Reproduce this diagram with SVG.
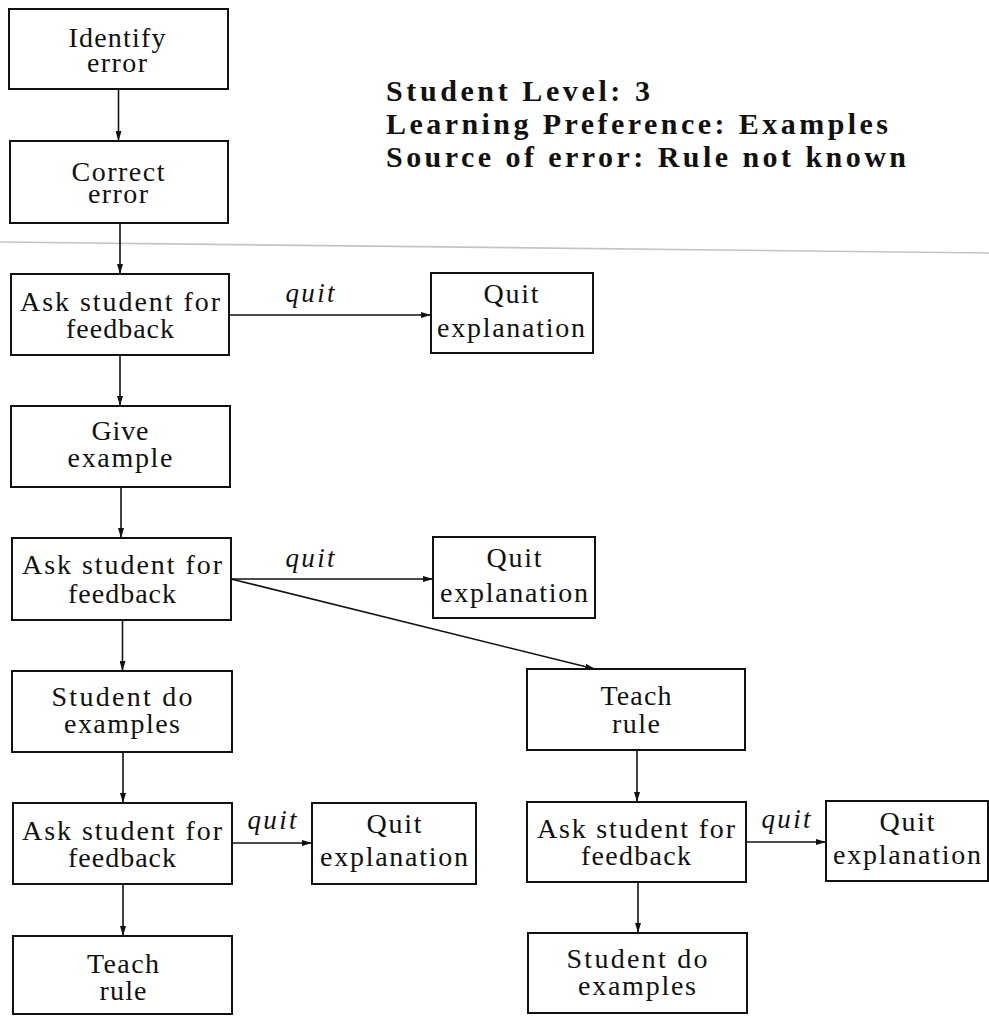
<svg xmlns="http://www.w3.org/2000/svg" width="989" height="1016" viewBox="0 0 989 1016">
  <style>
    .box { fill: #ffffff; stroke: #111111; stroke-width: 2; }
    .lbl { font-family: "Liberation Serif", "Times New Roman", serif; font-size: 28px; fill: #111111; text-anchor: middle; }
    .q { font-family: "Liberation Serif", "Times New Roman", serif; font-size: 27px; font-style: italic; fill: #111111; text-anchor: middle; }
    .hdr { font-family: "Liberation Serif", "Times New Roman", serif; font-size: 30px; font-weight: bold; fill: #111111; }
    .edge { stroke: #111111; stroke-width: 1.6; fill: none; marker-end: url(#arrow); }
  </style>
  <defs>
    <marker id="arrow" viewBox="0 0 10 6" refX="10" refY="3" markerWidth="10" markerHeight="6" markerUnits="userSpaceOnUse" orient="auto">
      <path d="M0,0 L10,3 L0,6 Z" fill="#111111"/>
    </marker>
  </defs>

  <rect width="989" height="1016" fill="#ffffff"/>

  <!-- page rule -->
  <line x1="0" y1="242" x2="989" y2="253" stroke="#c4c4c4" stroke-width="1.6"/>

  <!-- session header -->
  <g id="header">
    <text class="hdr" x="386" y="101" textLength="264">Student Level: 3</text>
    <text class="hdr" x="386" y="134" textLength="502">Learning Preference: Examples</text>
    <text class="hdr" x="386" y="167" textLength="520">Source of error: Rule not known</text>
  </g>

  <!-- connectors -->
  <g id="connectors">
    <line class="edge" x1="118.5" y1="89" x2="118.5" y2="141"/>
    <line class="edge" x1="120" y1="223" x2="120" y2="274"/>
    <line class="edge" x1="120" y1="355" x2="120" y2="406"/>
    <line class="edge" x1="121" y1="487" x2="121" y2="538"/>
    <line class="edge" x1="122.5" y1="620" x2="122.5" y2="671"/>
    <line class="edge" x1="123" y1="752" x2="123" y2="803"/>
    <line class="edge" x1="123" y1="884" x2="123" y2="936"/>
    <line class="edge" x1="637" y1="750" x2="637" y2="802"/>
    <line class="edge" x1="638" y1="882" x2="638" y2="933"/>
    <line class="edge" x1="229" y1="315" x2="431" y2="315"/>
    <line class="edge" x1="231" y1="579" x2="433" y2="579"/>
    <line class="edge" x1="231" y1="579" x2="595" y2="669"/>
    <line class="edge" x1="232" y1="843" x2="312" y2="843"/>
    <line class="edge" x1="746" y1="842" x2="826" y2="842"/>
    <text class="q" x="310" y="302" textLength="49">quit</text>
    <text class="q" x="310" y="567" textLength="49">quit</text>
    <text class="q" x="272" y="829" textLength="49">quit</text>
    <text class="q" x="786" y="828" textLength="49">quit</text>
  </g>

  <g id="identify-error">
    <rect class="box" x="9" y="9" width="219" height="80"/>
    <text class="lbl"><tspan x="117" y="47" textLength="97">Identify</tspan><tspan x="117" y="72" textLength="60">error</tspan></text>
  </g>

  <g id="correct-error">
    <rect class="box" x="10" y="141" width="218" height="82"/>
    <text class="lbl"><tspan x="118" y="181" textLength="93">Correct</tspan><tspan x="118" y="203" textLength="60">error</tspan></text>
  </g>

  <g id="ask-feedback-1">
    <rect class="box" x="11" y="274" width="218" height="81"/>
    <text class="lbl"><tspan x="120" y="311" textLength="200">Ask student for</tspan><tspan x="120" y="338" textLength="108">feedback</tspan></text>
  </g>

  <g id="quit-1">
    <rect class="box" x="431" y="273" width="162" height="80"/>
    <text class="lbl"><tspan x="511" y="303" textLength="55">Quit</tspan><tspan x="511" y="337" textLength="148">explanation</tspan></text>
  </g>

  <g id="give-example">
    <rect class="box" x="11" y="406" width="219" height="81"/>
    <text class="lbl"><tspan x="120" y="440" textLength="57">Give</tspan><tspan x="120" y="467" textLength="105">example</tspan></text>
  </g>

  <g id="ask-feedback-2">
    <rect class="box" x="12" y="538" width="219" height="82"/>
    <text class="lbl"><tspan x="122" y="574" textLength="200">Ask student for</tspan><tspan x="122" y="603" textLength="108">feedback</tspan></text>
  </g>

  <g id="quit-2">
    <rect class="box" x="433" y="537" width="162" height="81"/>
    <text class="lbl"><tspan x="514" y="567" textLength="55">Quit</tspan><tspan x="514" y="602" textLength="148">explanation</tspan></text>
  </g>

  <g id="student-examples-1">
    <rect class="box" x="12" y="671" width="220" height="81"/>
    <text class="lbl"><tspan x="122" y="706" textLength="141">Student do</tspan><tspan x="122" y="733" textLength="116">examples</tspan></text>
  </g>

  <g id="teach-rule-1">
    <rect class="box" x="527" y="669" width="218" height="81"/>
    <text class="lbl"><tspan x="636" y="705" textLength="71">Teach</tspan><tspan x="636" y="733" textLength="48">rule</tspan></text>
  </g>

  <g id="ask-feedback-3">
    <rect class="box" x="13" y="803" width="219" height="81"/>
    <text class="lbl"><tspan x="122" y="840" textLength="200">Ask student for</tspan><tspan x="122" y="867" textLength="108">feedback</tspan></text>
  </g>

  <g id="quit-3">
    <rect class="box" x="312" y="803" width="164" height="81"/>
    <text class="lbl"><tspan x="394" y="833" textLength="55">Quit</tspan><tspan x="394" y="866" textLength="148">explanation</tspan></text>
  </g>

  <g id="ask-feedback-4">
    <rect class="box" x="527" y="802" width="219" height="80"/>
    <text class="lbl"><tspan x="636" y="838" textLength="198">Ask student for</tspan><tspan x="636" y="865" textLength="110">feedback</tspan></text>
  </g>

  <g id="quit-4">
    <rect class="box" x="826" y="801" width="162" height="80"/>
    <text class="lbl"><tspan x="907" y="831" textLength="55">Quit</tspan><tspan x="907" y="864" textLength="148">explanation</tspan></text>
  </g>

  <g id="teach-rule-2">
    <rect class="box" x="13" y="936" width="219" height="78"/>
    <text class="lbl"><tspan x="123" y="973" textLength="72">Teach</tspan><tspan x="123" y="1000" textLength="47">rule</tspan></text>
  </g>

  <g id="student-examples-2">
    <rect class="box" x="528" y="933" width="219" height="80"/>
    <text class="lbl"><tspan x="637" y="968" textLength="141">Student do</tspan><tspan x="637" y="995" textLength="118">examples</tspan></text>
  </g>
</svg>
